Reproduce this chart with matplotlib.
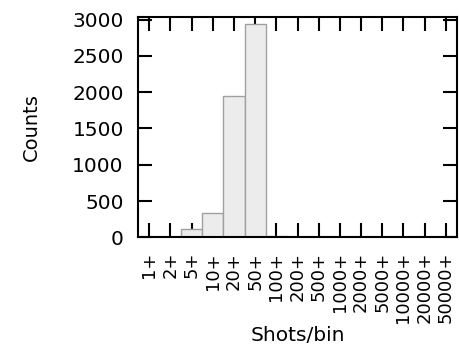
import numpy as np
import matplotlib
matplotlib.use('Agg')
import matplotlib.pyplot as plt

plt.rcParams['font.family'] = ['DejaVu Sans']

# histogram of shots per bin
bins = ['1+', '2+', '5+', '10+', '20+', '50+', '100+', '200+', '500+',
        '1000+', '2000+', '5000+', '10000+', '20000+', '50000+']
counts = [0, 0, 118, 339, 1942, 2938, 25, 0, 0, 0, 0, 0, 0, 0, 0]
yticks = [0, 500, 1000, 1500, 2000, 2500, 3000]

fig = plt.figure(figsize=(4.59, 3.47), dpi=100)
ax = fig.add_axes([0.3013, 0.316, 0.6937, 0.634])

x = np.arange(len(bins))
ax.bar(x, counts, width=1.0, color='#ececec', edgecolor='#a0a0a0', linewidth=1.0)
ax.set_axisbelow(True)

ax.set_xlim(-0.52, len(bins) - 0.48)
ax.set_ylim(0, 3030)
ax.set_xticks(x)
ax.set_xticklabels(bins, rotation=90, fontsize=13)
ax.set_yticks(yticks)

ax.tick_params(direction='in', length=10, width=1.5, top=True, right=True, pad=10.5)
ax.tick_params(axis='y', labelsize=14.5)
for s in ax.spines.values():
    s.set_linewidth(1.5)

ax.set_ylabel('Counts', fontsize=14)
ax.yaxis.set_label_coords(-0.305, 0.5)
ax.set_xlabel('Shots/bin', fontsize=14.5)
ax.xaxis.set_label_coords(0.5, -0.405)

fig.savefig('out.png', dpi=100)
